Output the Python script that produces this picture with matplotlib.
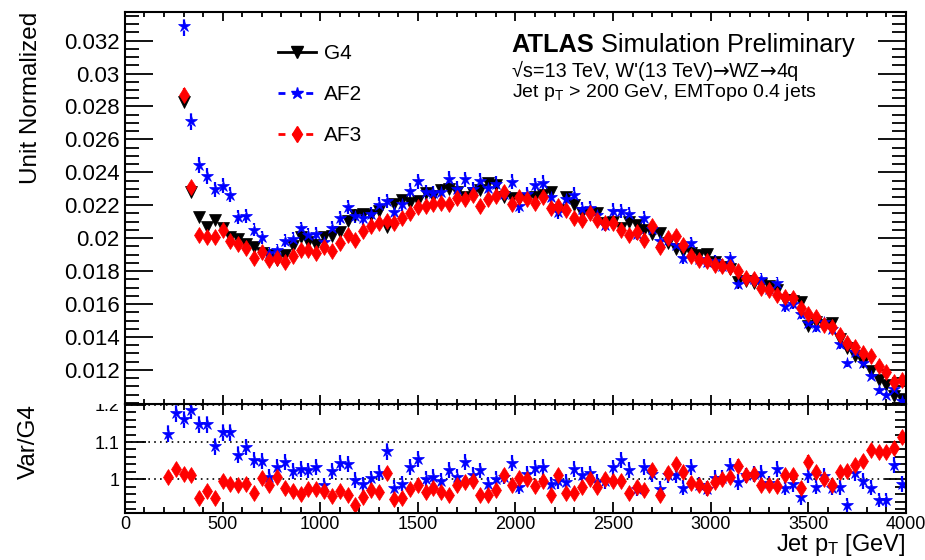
import numpy as np
import matplotlib
matplotlib.use('Agg')
import matplotlib.pyplot as plt
from matplotlib.lines import Line2D
from matplotlib.patches import Rectangle
from matplotlib.ticker import MultipleLocator, FixedLocator, FuncFormatter

plt.rcParams['font.family'] = ['Liberation Sans', 'DejaVu Sans']
plt.rcParams['mathtext.fontset'] = 'custom'
plt.rcParams['mathtext.rm'] = 'Liberation Sans'
plt.rcParams['mathtext.default'] = 'regular'

# jet pT binning: 40 GeV bins from 200 to 4000 GeV
bin_width = 40
pt = np.arange(200, 4000, bin_width) + bin_width / 2

# unit-normalised jet pT spectra, one value per bin
g4 = [0.04200, 0.03500, 0.02830, 0.02283, 0.02127, 0.02070, 0.02111, 0.02060, 0.02010, 0.01994,
      0.01965, 0.01949, 0.01913, 0.01898, 0.01868, 0.01898, 0.01953, 0.02006, 0.01975, 0.01959,
      0.02006, 0.02016, 0.02036, 0.02105, 0.02141, 0.02148, 0.02138, 0.02167, 0.02070, 0.02210,
      0.02234, 0.02214, 0.02225, 0.02273, 0.02259, 0.02291, 0.02301, 0.02283, 0.02253, 0.02273,
      0.02295, 0.02336, 0.02326, 0.02253, 0.02243, 0.02237, 0.02236, 0.02253, 0.02260, 0.02280,
      0.02170, 0.02253, 0.02202, 0.02153, 0.02151, 0.02153, 0.02093, 0.02101, 0.02060, 0.02096,
      0.02080, 0.02052, 0.02027, 0.02032, 0.01970, 0.01935, 0.01920, 0.01908, 0.01900, 0.01903,
      0.01853, 0.01825, 0.01811, 0.01736, 0.01742, 0.01728, 0.01723, 0.01708, 0.01683, 0.01622,
      0.01620, 0.01615, 0.01468, 0.01490, 0.01475, 0.01483, 0.01386, 0.01335, 0.01287, 0.01245,
      0.01193, 0.01139, 0.01109, 0.01040, 0.01025]

af2 = [0.04712, 0.04123, 0.03291, 0.02710, 0.02442, 0.02376, 0.02297, 0.02320, 0.02263, 0.02126,
       0.02136, 0.02052, 0.02005, 0.01911, 0.01928, 0.01985, 0.01998, 0.02060, 0.02022, 0.02026,
       0.01974, 0.02062, 0.02124, 0.02191, 0.02137, 0.02120, 0.02144, 0.02204, 0.02225, 0.02159,
       0.02209, 0.02287, 0.02345, 0.02278, 0.02273, 0.02282, 0.02359, 0.02299, 0.02357, 0.02298,
       0.02350, 0.02306, 0.02331, 0.02269, 0.02344, 0.02194, 0.02267, 0.02321, 0.02337, 0.02250,
       0.02159, 0.02237, 0.02264, 0.02179, 0.02185, 0.02138, 0.02083, 0.02168, 0.02167, 0.02148,
       0.02028, 0.02122, 0.02055, 0.01981, 0.01992, 0.01956, 0.01878, 0.01969, 0.01872, 0.01855,
       0.01859, 0.01834, 0.01878, 0.01724, 0.01761, 0.01752, 0.01751, 0.01689, 0.01728, 0.01586,
       0.01599, 0.01537, 0.01486, 0.01460, 0.01488, 0.01449, 0.01356, 0.01242, 0.01308, 0.01239,
       0.01166, 0.01076, 0.01048, 0.01081, 0.01012]

af3 = [0.04229, 0.03598, 0.02870, 0.02308, 0.02021, 0.02008, 0.02005, 0.02050, 0.01984, 0.01962,
       0.01939, 0.01879, 0.01919, 0.01868, 0.01881, 0.01854, 0.01891, 0.01928, 0.01926, 0.01910,
       0.01946, 0.01925, 0.01971, 0.02019, 0.01991, 0.02045, 0.02076, 0.02093, 0.02107, 0.02095,
       0.02122, 0.02154, 0.02189, 0.02196, 0.02209, 0.02213, 0.02207, 0.02246, 0.02237, 0.02264,
       0.02196, 0.02240, 0.02259, 0.02280, 0.02207, 0.02248, 0.02236, 0.02212, 0.02251, 0.02182,
       0.02196, 0.02172, 0.02123, 0.02110, 0.02155, 0.02110, 0.02093, 0.02090, 0.02052, 0.02021,
       0.02038, 0.01992, 0.02076, 0.01949, 0.02002, 0.02014, 0.01958, 0.01891, 0.01870, 0.01859,
       0.01840, 0.01829, 0.01824, 0.01800, 0.01761, 0.01752, 0.01695, 0.01684, 0.01653, 0.01641,
       0.01639, 0.01578, 0.01538, 0.01520, 0.01475, 0.01459, 0.01414, 0.01366, 0.01337, 0.01305,
       0.01287, 0.01222, 0.01190, 0.01127, 0.01141]

# relative MC statistical uncertainty of each sample
g4_rel = 0.005
af2_rel = 0.020
af3_rel = 0.015

g4 = np.array(g4)
af2 = np.array(af2)
af3 = np.array(af3)

r_af2 = af2 / g4
r_af3 = af3 / g4
r_af2_err = r_af2 * np.hypot(af2_rel, g4_rel)
r_af3_err = r_af3 * np.hypot(af3_rel, g4_rel)

dash = (0, (2.5, 2.5))

fig = plt.figure(figsize=(9.25, 5.6), dpi=100)
ax = fig.add_axes([0.1351, 0.2786, 0.8443, 0.7000], zorder=2)
rax = fig.add_axes([0.1351, 0.0834, 0.8443, 0.1952], zorder=0)
# upper pad hides the top of the ratio axis labels
fig.add_artist(Rectangle((0, 0.2786), 0.133, 0.7214, transform=fig.transFigure,
                         facecolor='white', edgecolor='none', zorder=1))


def draw(axis, y, yerr, marker, color, ms, ls):
    cont = axis.errorbar(pt, y, yerr=yerr, fmt=marker, color=color, ms=ms,
                         mec=color, mew=0.5, elinewidth=1.6, capsize=0)
    if ls is not None:
        cont[2][0].set_linestyle(ls)
    return cont


# main panel
draw(ax, g4, g4 * g4_rel, 'v', 'black', 8, None)
draw(ax, af2, af2 * af2_rel, '*', 'blue', 9, dash)
draw(ax, af3, af3 * af3_rel, 'd', 'red', 8.5, dash)

ax.set_xlim(0, 4000)
ax.set_ylim(0.00993, 0.03374)
ax.xaxis.set_major_locator(MultipleLocator(500))
ax.xaxis.set_minor_locator(MultipleLocator(100))
ax.yaxis.set_major_locator(FixedLocator(np.arange(0.012, 0.0325, 0.002)))
ax.yaxis.set_minor_locator(MultipleLocator(0.0005))
ax.yaxis.set_major_formatter(FuncFormatter(lambda v, _: f'{v:.3f}'.rstrip('0')))
ax.tick_params(which='both', direction='in', top=True, right=True,
               labelbottom=False, labelsize=16, width=1.3)
ax.tick_params(axis='y', which='major', length=20, pad=4)
ax.tick_params(axis='y', which='minor', length=10)
ax.tick_params(axis='x', which='major', length=6.5)
ax.tick_params(axis='x', which='minor', length=3.5)
ax.set_ylabel('Unit Normalized', fontsize=17.5, loc='top')
ax.yaxis.set_label_coords(-0.106, 1.0)

handles = [Line2D([], [], color='black', marker='v', ms=8, lw=2),
           Line2D([], [], color='blue', marker='*', ms=9, lw=2, ls=dash),
           Line2D([], [], color='red', marker='d', ms=8.5, lw=2, ls=dash)]
ax.legend(handles, ['G4', 'AF2', 'AF3'], loc='upper left', bbox_to_anchor=(0.196, 0.918),
          frameon=False, fontsize=15, numpoints=1, handlelength=1.8,
          handletextpad=0.4, labelspacing=1.05, borderpad=0, borderaxespad=0)

atlas = ax.text(0.495, 0.899, 'ATLAS', fontsize=18.3, fontweight='bold',
                transform=ax.transAxes, va='baseline')
ax.annotate(' Simulation Preliminary', xy=(1, 0), xycoords=atlas,
            fontsize=18.3, va='bottom')

# process line; arrows taken from DejaVu Sans
prev = ax.text(0.495, 0.835, "√s=13 TeV, W'(13 TeV)", fontsize=14.3,
               transform=ax.transAxes, va='baseline')
for piece, fam in [('→', 'DejaVu Sans'), ('WZ', 'Liberation Sans'),
                   ('→', 'DejaVu Sans'), ('4q', 'Liberation Sans')]:
    prev = ax.annotate(piece, xy=(1, 0), xycoords=prev, fontsize=14.3,
                       family=fam, va='bottom')

ax.text(0.495, 0.782, 'Jet p$_{T}$ > 200 GeV, EMTopo 0.4 jets', fontsize=14,
        transform=ax.transAxes, va='baseline')

# ratio panel
for lvl in (1.0, 1.1, 1.2):
    rax.axhline(lvl, color='black', lw=1.2, ls=(0, (1, 2.5)))
draw(rax, r_af2, r_af2_err, '*', 'blue', 9, dash)
draw(rax, r_af3, r_af3_err, 'd', 'red', 8.5, dash)

rax.set_xlim(0, 4000)
rax.set_ylim(0.909, 1.202)
rax.xaxis.set_major_locator(MultipleLocator(500))
rax.xaxis.set_minor_locator(MultipleLocator(100))
rax.yaxis.set_major_locator(FixedLocator([1.0, 1.1, 1.2]))
rax.yaxis.set_minor_locator(MultipleLocator(0.02))
rax.yaxis.set_major_formatter(FuncFormatter(lambda v, _: f'{v:g}'))
rax.tick_params(which='both', direction='in', top=True, right=True,
                labelsize=13, width=1.3)
rax.tick_params(axis='y', which='major', length=15, pad=4)
rax.tick_params(axis='y', which='minor', length=8)
rax.tick_params(axis='x', which='major', length=8, pad=2)
rax.tick_params(axis='x', which='minor', length=4)
rax.set_ylabel('Var/G4', fontsize=17.5, loc='top')
rax.yaxis.set_label_coords(-0.109, 1.0)
rax.set_xlabel('Jet p$_{T}$ [GeV]', fontsize=17, loc='right')
rax.xaxis.set_label_coords(1.0, -0.17)

for a in (ax, rax):
    for sp in a.spines.values():
        sp.set_linewidth(1.5)

fig.savefig('out.png', dpi=100)
